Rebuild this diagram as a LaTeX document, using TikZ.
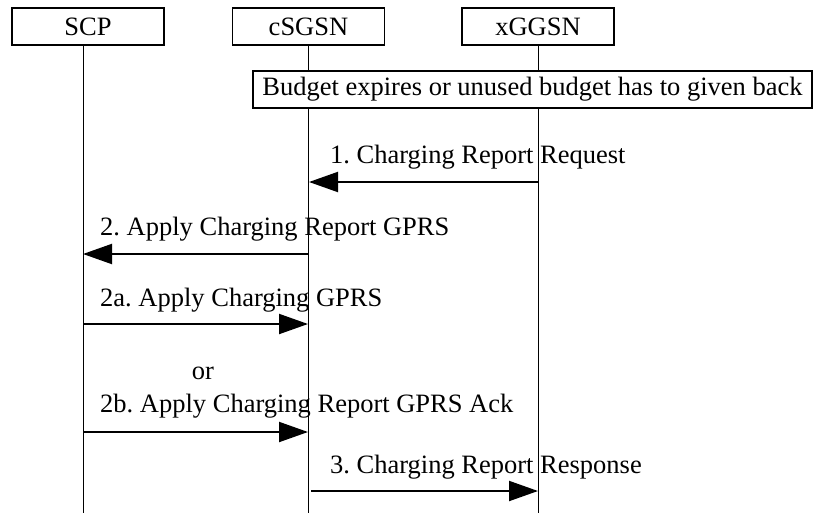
\documentclass[tikz,border=0pt]{standalone}
\usepackage{fontspec}
\setmainfont{Liberation Serif}
\usetikzlibrary{arrows.meta}
\begin{document}
\frenchspacing
\begin{tikzpicture}[x=1pt,y=-1pt,
  txt/.style={font=\fontsize{26.5}{30}\selectfont},
  actor/.style={draw, line width=1.6pt, minimum width=152pt, minimum height=37pt, inner sep=0pt, txt},
  note/.style={draw, fill=white, line width=1.6pt, minimum height=37pt, inner sep=0pt, txt},
  lbl/.style={anchor=base west, inner sep=0pt, txt},
  life/.style={line width=0.9pt},
  msg/.style={line width=2pt, -{Triangle[length=29pt,width=20pt]}}]
\useasboundingbox (0,0) rectangle (814,515);
% actors
\node[actor] (scp) at (88,26.5) {SCP};
\node[actor] (sgsn) at (308.5,26.5) {cSGSN};
\node[actor] (ggsn) at (538,26.5) {xGGSN};
% lifeline ends
\coordinate (scpend) at (83,513);
\coordinate (sgsnend) at (308,513);
\coordinate (ggsnend) at (538,513);
\draw[life] (scp.south -| scpend) -- (scpend);
\draw[life] (sgsn.south -| sgsnend) -- (sgsnend);
\draw[life] (ggsn.south -| ggsnend) -- (ggsnend);
% note
\node[note, minimum width=559pt] (budget) at (532.5,89.5) {Budget expires or unused budget has to given back};
% message end points
\coordinate (m1a) at (538,182); \coordinate (m1b) at (309,182);
\coordinate (m2a) at (308,254); \coordinate (m2b) at (83,254);
\coordinate (m3a) at (83,324); \coordinate (m3b) at (308,324);
\coordinate (m4a) at (83,432); \coordinate (m4b) at (308,432);
\coordinate (m5a) at (311,491); \coordinate (m5b) at (538,491);
\draw[msg] (m1a) -- (m1b);
\draw[msg] (m2a) -- (m2b);
\draw[msg] (m3a) -- (m3b);
\draw[msg] (m4a) -- (m4b);
\draw[msg] (m5a) -- (m5b);
% labels
\node[lbl] (l1) at (330,163) {1. Charging Report Request};
\node[lbl] (l2) at (100,235) {2. Apply Charging Report GPRS};
\node[lbl] (l3) at (100,306) {2a. Apply Charging GPRS};
\node[anchor=base, inner sep=0pt, txt] (lor) at (203,379) {or};
\node[lbl] (l4) at (100,412) {2b. Apply Charging Report GPRS Ack};
\node[lbl] (l5) at (330,473) {3. Charging Report Response};
\end{tikzpicture}
\end{document}
